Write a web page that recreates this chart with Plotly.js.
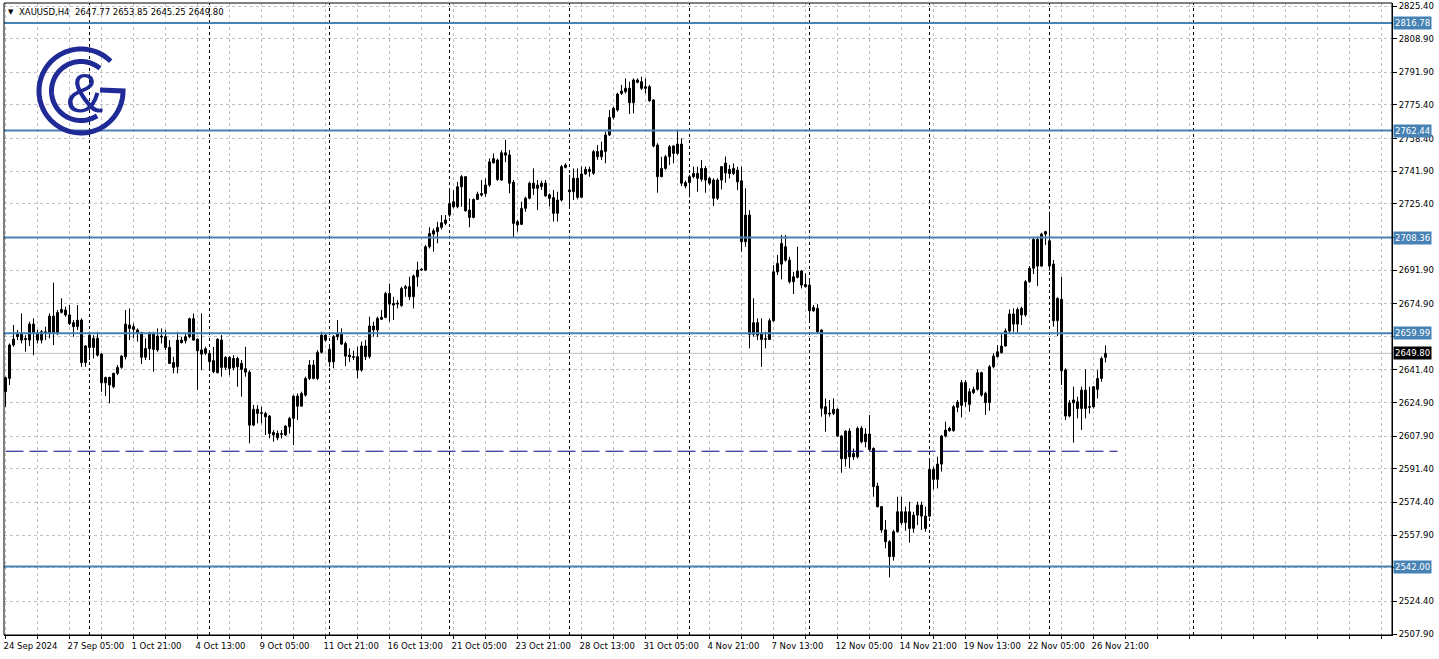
<!DOCTYPE html>
<html><head><meta charset="utf-8">
<script src="https://cdn.plot.ly/plotly-3.0.1.min.js"></script>
<style>html,body{margin:0;padding:0;background:#fff;overflow:hidden}#chart{width:1439px;height:659px}</style>
</head><body><div id="chart"></div>
<script>
// XAUUSD H4, bar index 0 = 24 Sep 2024 13:00
const openP = [2630.4,2637.1,2654.0,2658.2,2659.9,2657.0,2656.5,2664.6,2660.2,2656.5,2659.9,2660.2,2668.6,2659.9,2670.5,2671.7,2669.2,2665.3,2663.3,2666.6,
2645.1,2659.0,2652.8,2657.4,2649.4,2634.9,2637.6,2632.9,2639.7,2642.7,2648.1,2664.1,2663.3,2661.6,2660.2,2647.8,2652.1,2659.9,2651.5,2658.2,
2658.2,2652.8,2645.1,2643.0,2656.5,2656.2,2658.2,2667.3,2656.9,2651.5,2649.8,2649.8,2646.1,2640.0,2656.5,2642.7,2647.8,2642.5,2647.2,2644.7,
2642.0,2640.3,2613.5,2621.5,2619.4,2619.4,2618.1,2609.8,2609.3,2609.0,2608.5,2612.7,2616.9,2628.2,2623.1,2628.7,2637.1,2643.9,2637.1,2650.3,
2659.0,2651.8,2645.5,2659.5,2654.5,2654.8,2648.9,2647.7,2648.1,2641.3,2653.5,2648.1,2663.6,2661.6,2668.0,2668.0,2680.1,2675.0,2674.7,2673.9,
2682.6,2683.5,2678.4,2688.5,2691.9,2691.9,2703.7,2710.1,2711.3,2713.5,2715.5,2719.7,2726.4,2723.9,2734.0,2739.1,2722.2,2718.5,2727.6,2729.8,
2730.6,2734.9,2746.1,2747.5,2737.4,2751.2,2750.1,2736.3,2714.7,2715.0,2723.1,2728.2,2735.8,2733.2,2734.1,2735.8,2729.9,2728.5,2720.6,2727.3,
2743.8,2732.4,2731.5,2738.3,2728.7,2740.5,2741.7,2740.8,2751.8,2749.2,2751.8,2760.2,2769.1,2772.8,2781.2,2782.1,2783.8,2776.5,2786.8,2787.1,
2784.6,2784.6,2777.9,2755.1,2739.1,2743.3,2749.2,2754.6,2750.9,2755.6,2736.1,2736.1,2739.1,2740.8,2737.8,2743.3,2738.3,2737.4,2728.2,2737.4,
2741.0,2742.8,2740.7,2742.4,2737.0,2706.2,2719.7,2659.4,2665.3,2659.9,2656.8,2656.8,2666.3,2691.0,2694.9,2703.7,2696.9,2686.0,2688.2,2691.4,
2684.6,2684.3,2671.3,2672.5,2661.6,2622.8,2619.1,2619.4,2621.5,2608.0,2596.5,2610.5,2599.2,2597.5,2611.9,2605.1,2609.0,2601.7,2582.7,2572.3,
2560.5,2554.6,2547.0,2559.6,2569.7,2564.2,2569.7,2561.3,2568.0,2573.1,2567.5,2567.5,2591.1,2586.1,2593.8,2608.0,2611.9,2610.7,2622.5,2623.5,
2635.0,2624.0,2629.9,2631.6,2640.0,2629.6,2624.9,2643.0,2648.1,2650.1,2653.5,2661.1,2669.7,2664.6,2672.5,2669.2,2686.0,2692.8,2707.4,2693.9,
2710.1,2706.7,2694.9,2666.3,2677.1,2641.4,2618.1,2626.2,2625.3,2621.9,2631.2,2622.4,2622.8,2631.6,2637.1,2647.77];
const highP = [2638.0,2654.8,2664.1,2661.6,2670.0,2659.0,2665.8,2667.5,2661.6,2661.6,2663.3,2670.0,2685.5,2671.7,2677.6,2673.4,2674.2,2666.6,2674.2,2667.5,
2654.0,2660.7,2659.0,2660.7,2649.8,2638.0,2638.0,2640.0,2643.9,2648.9,2671.7,2672.5,2664.9,2662.4,2660.7,2657.4,2660.7,2660.7,2662.4,2662.4,
2661.6,2656.5,2648.1,2660.7,2658.2,2659.9,2667.8,2670.0,2657.4,2670.0,2653.1,2650.6,2653.1,2657.4,2659.0,2648.4,2648.4,2648.9,2648.1,2646.4,
2653.1,2641.3,2623.7,2623.6,2622.8,2620.3,2618.6,2611.0,2610.7,2611.0,2613.5,2617.7,2628.6,2629.5,2630.4,2638.0,2646.4,2646.4,2651.4,2660.7,
2659.9,2653.5,2659.0,2666.6,2662.4,2655.7,2652.3,2651.1,2653.1,2655.7,2656.5,2668.3,2665.8,2668.3,2671.7,2680.9,2685.1,2678.4,2676.7,2683.5,
2684.3,2688.5,2689.7,2696.1,2692.7,2704.5,2713.5,2712.9,2716.3,2719.7,2719.7,2732.3,2732.3,2736.5,2739.9,2739.4,2728.1,2728.1,2731.5,2737.4,
2738.2,2748.3,2750.9,2748.3,2752.5,2757.8,2752.6,2737.4,2717.2,2726.5,2729.0,2736.6,2743.3,2737.4,2737.1,2737.4,2730.7,2732.4,2731.5,2745.0,
2745.9,2740.0,2743.3,2743.3,2744.2,2744.2,2744.2,2752.6,2755.1,2756.8,2761.9,2772.8,2774.5,2781.6,2785.5,2788.8,2787.1,2788.8,2788.8,2789.7,
2788.8,2785.5,2778.2,2756.0,2749.2,2750.1,2755.1,2755.1,2762.4,2758.5,2737.1,2740.0,2744.2,2744.2,2747.5,2744.5,2739.1,2738.3,2738.3,2744.5,
2749.3,2745.0,2745.8,2744.1,2744.1,2733.2,2722.2,2677.6,2667.5,2667.5,2660.7,2667.5,2694.4,2699.5,2709.6,2709.6,2698.6,2691.0,2703.7,2691.9,
2690.2,2686.8,2674.2,2674.7,2661.9,2627.0,2626.2,2627.0,2622.0,2608.5,2611.0,2611.9,2601.7,2612.7,2613.0,2611.9,2618.6,2602.3,2584.4,2572.6,
2565.5,2555.4,2560.5,2577.3,2577.3,2572.3,2574.8,2569.7,2574.8,2574.8,2572.3,2596.7,2592.5,2597.5,2608.5,2615.2,2612.7,2623.7,2626.2,2636.3,
2636.3,2632.1,2632.9,2641.7,2640.5,2630.4,2643.9,2649.8,2654.0,2659.9,2662.4,2672.0,2672.5,2673.0,2673.4,2686.9,2693.9,2708.4,2708.8,2710.8,
2711.8,2721.4,2697.0,2678.1,2688.5,2642.2,2626.2,2632.9,2627.9,2632.9,2641.7,2632.9,2633.2,2641.3,2648.1,2653.85];
const lowP = [2622.8,2633.8,2653.1,2656.5,2654.8,2650.6,2653.5,2648.9,2654.8,2654.8,2656.5,2657.4,2654.0,2659.0,2670.0,2668.3,2664.1,2658.2,2661.6,2643.0,
2643.0,2646.4,2647.2,2648.1,2630.4,2628.2,2624.5,2632.1,2638.8,2642.0,2646.7,2656.5,2657.4,2655.7,2644.4,2646.4,2646.4,2640.5,2650.6,2654.8,
2651.5,2644.4,2639.7,2639.7,2654.8,2654.8,2657.4,2656.2,2631.2,2641.3,2648.9,2642.2,2639.7,2639.7,2638.0,2641.3,2638.8,2641.3,2632.9,2627.9,
2638.0,2604.3,2613.0,2614.4,2614.4,2608.5,2606.8,2605.1,2605.9,2606.8,2608.0,2609.3,2603.4,2616.1,2622.8,2627.9,2636.3,2636.6,2636.3,2649.8,
2655.7,2643.0,2642.2,2656.5,2654.0,2643.4,2645.5,2646.4,2637.1,2640.5,2646.4,2647.2,2658.2,2658.2,2666.6,2667.5,2665.8,2666.6,2672.5,2673.4,
2678.4,2676.7,2672.5,2683.5,2691.5,2691.4,2702.8,2701.2,2705.4,2712.4,2714.6,2718.8,2723.1,2723.1,2723.9,2721.4,2713.5,2718.0,2727.3,2729.0,
2729.0,2734.0,2745.8,2737.0,2737.0,2746.5,2730.7,2708.5,2711.3,2714.7,2721.4,2727.7,2729.9,2722.3,2732.4,2729.0,2724.0,2716.4,2716.4,2726.5,
2743.3,2723.1,2727.3,2727.7,2728.2,2740.0,2739.1,2740.0,2747.6,2747.6,2745.9,2759.7,2768.1,2772.0,2780.4,2781.2,2770.8,2771.1,2786.3,2782.9,
2781.2,2777.0,2753.9,2731.0,2738.8,2742.5,2745.0,2745.9,2750.1,2734.4,2733.2,2728.7,2738.3,2731.5,2736.6,2731.0,2734.9,2724.3,2727.3,2732.7,
2736.0,2738.2,2739.9,2732.3,2701.2,2703.7,2652.3,2658.2,2656.5,2643.0,2652.3,2656.5,2665.8,2689.4,2687.2,2696.1,2685.1,2679.8,2687.7,2682.6,
2683.1,2665.3,2670.8,2660.2,2617.8,2610.2,2617.8,2618.6,2607.6,2589.4,2592.5,2591.6,2595.9,2596.7,2604.3,2602.3,2600.1,2577.3,2571.9,2559.1,
2551.2,2536.5,2545.0,2559.1,2563.0,2560.1,2554.1,2559.1,2563.0,2560.5,2559.6,2566.9,2581.0,2581.5,2590.0,2607.3,2610.2,2610.2,2620.0,2617.4,
2622.8,2620.3,2629.2,2630.9,2627.9,2618.6,2620.8,2642.2,2647.8,2649.8,2653.2,2660.2,2660.7,2660.2,2664.1,2668.3,2685.5,2689.9,2683.8,2693.6,
2704.6,2691.6,2663.3,2658.6,2633.8,2616.1,2617.4,2604.6,2616.9,2611.0,2616.9,2619.4,2621.9,2627.0,2635.4,2645.25];
const closeP = [2637.5,2654.0,2657.0,2659.9,2656.5,2656.8,2664.6,2659.9,2656.5,2660.7,2660.7,2668.6,2659.9,2670.5,2672.0,2669.2,2664.9,2663.3,2666.6,2645.1,
2653.5,2652.8,2657.4,2648.9,2634.9,2637.6,2633.8,2639.7,2642.7,2648.4,2664.6,2662.4,2661.9,2660.2,2647.8,2652.3,2660.2,2651.8,2658.5,2658.0,
2652.8,2644.7,2642.7,2656.5,2655.2,2658.2,2667.3,2656.5,2651.1,2649.4,2652.1,2645.6,2640.5,2656.9,2642.7,2647.8,2642.2,2647.2,2643.0,2641.7,
2640.3,2613.5,2621.5,2619.4,2619.6,2617.7,2609.3,2608.5,2607.1,2608.8,2613.0,2616.9,2628.2,2623.1,2629.5,2637.1,2643.9,2637.1,2650.3,2659.0,
2656.5,2645.5,2658.2,2658.2,2659.5,2648.4,2648.1,2647.9,2641.3,2653.5,2648.1,2663.6,2661.6,2667.5,2667.0,2680.1,2674.7,2674.2,2674.9,2682.6,
2683.5,2678.4,2688.9,2691.9,2692.2,2703.7,2710.4,2711.8,2713.5,2715.8,2717.2,2725.6,2723.9,2734.0,2739.1,2721.9,2718.5,2727.6,2730.3,2730.6,
2734.9,2746.6,2748.3,2737.7,2751.2,2750.0,2735.8,2715.5,2716.4,2723.1,2728.2,2735.8,2733.2,2734.9,2735.8,2729.4,2728.2,2720.6,2727.3,2744.2,
2745.0,2731.5,2738.3,2728.7,2740.5,2742.8,2742.8,2751.8,2749.2,2752.3,2760.2,2769.1,2773.7,2780.9,2782.4,2783.8,2776.5,2788.0,2788.0,2783.8,
2783.8,2777.5,2754.6,2739.1,2743.3,2749.2,2754.3,2750.9,2755.6,2735.8,2734.4,2739.1,2740.8,2738.3,2743.3,2737.4,2735.8,2728.2,2737.4,2744.2,
2746.0,2740.7,2743.3,2736.5,2706.2,2719.7,2659.4,2665.3,2659.0,2656.8,2657.0,2666.3,2691.0,2695.3,2705.4,2696.9,2686.0,2688.5,2691.4,2684.3,
2683.5,2671.3,2673.0,2660.7,2622.0,2619.1,2619.3,2621.5,2608.0,2596.5,2610.5,2597.5,2597.5,2611.9,2605.1,2609.0,2601.2,2582.4,2572.3,2560.5,
2554.6,2547.0,2559.6,2569.7,2564.2,2569.7,2561.3,2568.0,2573.1,2567.5,2561.3,2591.1,2586.1,2593.8,2608.0,2611.0,2610.7,2622.8,2625.1,2635.0,
2625.4,2630.4,2631.6,2640.0,2628.7,2624.9,2643.0,2648.4,2650.6,2653.5,2661.1,2669.7,2664.6,2672.0,2669.2,2686.0,2692.8,2707.4,2693.9,2710.1,
2711.3,2693.9,2666.3,2677.6,2641.0,2618.1,2624.8,2624.8,2621.9,2631.2,2621.9,2622.8,2632.9,2637.1,2647.2,2649.80];

const xTickLabels = ['24 Sep 2024','27 Sep 05:00','1 Oct 21:00','4 Oct 13:00','9 Oct 05:00','11 Oct 21:00','16 Oct 13:00','21 Oct 05:00','23 Oct 21:00','28 Oct 13:00','31 Oct 05:00','4 Nov 21:00','7 Nov 13:00','12 Nov 05:00','14 Nov 21:00','19 Nov 13:00','22 Nov 05:00','26 Nov 21:00'];
const yTickVals = [2825.40,2808.90,2791.90,2775.40,2758.40,2741.90,2725.40,2708.40,2691.90,2674.90,2658.40,2641.40,2624.90,2607.90,2591.40,2574.40,2557.90,2541.40,2524.40,2507.90];
const yTickHidden = [2708.40,2658.40,2541.40]; // covered by level labels in the reference
const levelLines = [2816.78,2762.44,2708.36,2659.99,2542.00];
const dashedLevel = 2600.3;
const dashedEndBar = 278;
const lastPrice = 2649.80;
const weekSeparators = [21,51,81,111,141,171,201,231,261,297];
const titleText = 'XAUUSD,H4\u00a0\u00a02647.77 2653.85 2645.25 2649.80';

// ---- geometry of the plot area (px) ----
const W = 1439, H = 659, ML = 4, MR = 47, MT = 3, MB = 24;
const PW = W - ML - MR, PH = H - MT - MB;
const xRange = [-0.375, -0.375 + PW / 4];
const yRange = [2507.4, 2507.4 + PH / 1.978];

const FONT = 'DejaVu Sans';
const FS = 8.5;
const n = openP.length;

// wicks
const wx = [], wy = [];
for (let i = 0; i < n; i++) { wx.push(i, i, null); wy.push(lowP[i], highP[i], null); }

// bodies
const upX = [], upB = [], upH = [], dnX = [], dnB = [], dnH = [];
for (let i = 0; i < n; i++) {
  const o = openP[i], c = closeP[i];
  const h = Math.max(Math.abs(c - o), 0.5);
  if (c >= o) { upX.push(i); upB.push(o); upH.push(h); }
  else { dnX.push(i); dnB.push(c); dnH.push(h); }
}

const traces = [
  {type:'scatter', mode:'lines', x:wx, y:wy, line:{color:'#000', width:1}, hoverinfo:'skip', showlegend:false, connectgaps:false},
  {type:'bar', x:upX, base:upB, y:upH, width:0.5, marker:{color:'#fff', line:{color:'#000', width:1}}, hoverinfo:'skip', showlegend:false},
  {type:'bar', x:dnX, base:dnB, y:dnH, width:0.5, marker:{color:'#000', line:{color:'#000', width:1}}, hoverinfo:'skip', showlegend:false}
];

// x ticks every 8 bars, labels every 16
const xTickVals = [], xTickText = [];
for (let k = 0; k * 8 <= xRange[1]; k++) {
  xTickVals.push(k * 8);
  xTickText.push(k % 2 === 0 && k / 2 < xTickLabels.length ? xTickLabels[k / 2] : '');
}

const shapes = [];
weekSeparators.forEach(s => shapes.push({type:'line', xref:'x', yref:'paper', x0:s, x1:s, y0:0, y1:1, line:{color:'#000', width:1, dash:'3px,3px'}, layer:'above'}));
shapes.push({type:'line', xref:'paper', yref:'y', x0:0, x1:1, y0:lastPrice, y1:lastPrice, line:{color:'#c0c0c0', width:1}, layer:'below'});
shapes.push({type:'line', xref:'x', yref:'y', x0:0, x1:dashedEndBar, y0:dashedLevel, y1:dashedLevel, line:{color:'#00008b', width:1, dash:'18px,6px'}, layer:'above'});
levelLines.forEach(v => shapes.push({type:'line', xref:'paper', yref:'y', x0:0, x1:1, y0:v, y1:v, line:{color:'#4682B4', width:2}, layer:'above'}));
shapes.push({type:'rect', xref:'paper', yref:'paper', x0:0, x1:1, y0:0, y1:1, line:{color:'#000', width:1}, fillcolor:'rgba(0,0,0,0)', layer:'above'});

// logo
function p2p(px, py) { return [(px - ML) / PW, (MT + PH - py) / PH]; }
function arcPath(cx, cy, r, a0, a1, steps) {
  let s = '';
  for (let k = 0; k <= steps; k++) {
    const a = (a0 + (a1 - a0) * k / steps) * Math.PI / 180;
    const q = p2p(cx + r * Math.cos(a), cy - r * Math.sin(a));
    s += (k ? 'L' : 'M') + q[0].toFixed(5) + ',' + q[1].toFixed(5);
  }
  return s;
}
const LOGO = '#1f2a96';
const gEnd = p2p(100, 90);
shapes.push({type:'path', xref:'paper', yref:'paper', path: arcPath(81, 91, 42, 45, 360, 90) + 'L' + gEnd[0].toFixed(5) + ',' + gEnd[1].toFixed(5), line:{color:LOGO, width:5}, fillcolor:'rgba(0,0,0,0)', layer:'above'});
shapes.push({type:'path', xref:'paper', yref:'paper', path: arcPath(81, 91, 29.5, 50, 303, 70), line:{color:LOGO, width:5}, fillcolor:'rgba(0,0,0,0)', layer:'above'});

const annotations = [];
levelLines.forEach(v => annotations.push({xref:'paper', yref:'y', x:1, y:v, xanchor:'left', yanchor:'middle', xshift:1, text:v.toFixed(2), showarrow:false, bgcolor:'#4682B4', borderpad:1, font:{family:FONT, size:FS, color:'#fff'}}));
annotations.push({xref:'paper', yref:'y', x:1, y:lastPrice, xanchor:'left', yanchor:'middle', xshift:1, text:lastPrice.toFixed(2), showarrow:false, bgcolor:'#000', borderpad:1, font:{family:FONT, size:FS, color:'#fff'}});
const tpos = p2p(17, 12);
annotations.push({xref:'paper', yref:'paper', x:tpos[0], y:tpos[1], xanchor:'left', yanchor:'middle', text:titleText, showarrow:false, font:{family:FONT, size:FS, color:'#000'}});
const tri = p2p(11, 12);
annotations.push({xref:'paper', yref:'paper', x:tri[0], y:tri[1], xanchor:'center', yanchor:'middle', text:'\u25BC', showarrow:false, font:{family:FONT, size:7, color:'#000'}});
const amp = p2p(84, 93);
annotations.push({xref:'paper', yref:'paper', x:amp[0], y:amp[1], xanchor:'center', yanchor:'middle', text:'&', showarrow:false, font:{family:'Liberation Sans', size:56, color:LOGO}});

const layout = {
  width: W, height: H, autosize: false,
  margin: {l: ML, r: MR, t: MT, b: MB, pad: 0},
  paper_bgcolor: '#fff', plot_bgcolor: '#fff',
  barmode: 'overlay', showlegend: false,
  font: {family: FONT, size: FS, color: '#000'},
  xaxis: {range: xRange, tickmode: 'array', tickvals: xTickVals, ticktext: xTickText, tickangle: 0,
    ticks: 'outside', ticklen: 3, tickcolor: '#000', ticklabelposition: 'outside right',
    ticklabelshift: -3, ticklabelstandoff: 3,
    showgrid: true, gridcolor: '#c0c0c0', griddash: '3px,3px', gridwidth: 1,
    zeroline: false, showline: true, linecolor: '#000', linewidth: 1, fixedrange: true,
    tickfont: {family: FONT, size: FS, color: '#000'}},
  yaxis: {range: yRange, side: 'right', tickmode: 'array', tickvals: yTickVals,
    ticktext: yTickVals.map(v => yTickHidden.includes(v) ? '' : v.toFixed(2)),
    ticks: 'outside', ticklen: 4, tickcolor: '#000',
    showgrid: true, gridcolor: '#c0c0c0', griddash: '3px,3px', gridwidth: 1,
    zeroline: false, showline: true, linecolor: '#000', linewidth: 1, fixedrange: true,
    tickfont: {family: FONT, size: FS, color: '#000'}},
  shapes: shapes, annotations: annotations
};

Plotly.newPlot('chart', traces, layout, {staticPlot: true, displayModeBar: false});
</script>
</body></html>
